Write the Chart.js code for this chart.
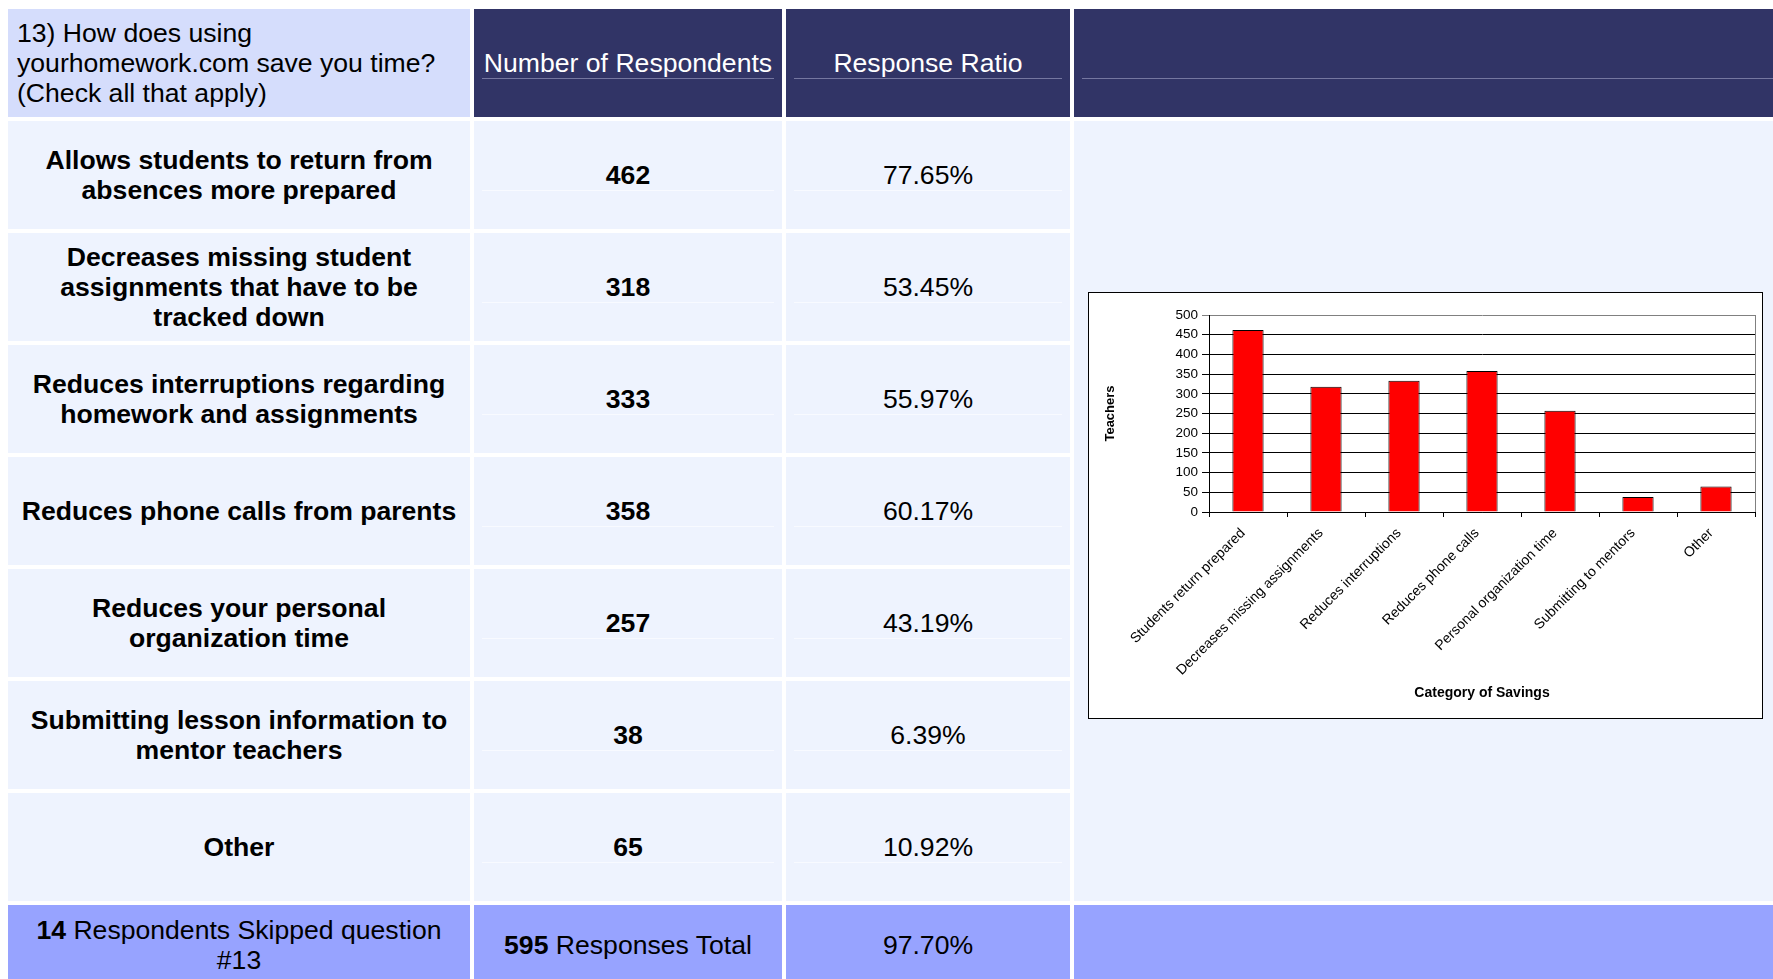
<!DOCTYPE html>
<html><head><meta charset="utf-8">
<script src="https://cdn.jsdelivr.net/npm/chart.js@4/dist/chart.umd.min.js"></script>
<style>
html,body{margin:0;padding:0;background:#fff;overflow:hidden;width:1773px;height:979px;}
body{position:relative;font-family:'Liberation Sans',Arial,sans-serif;}
.cell{position:absolute;display:flex;align-items:center;justify-content:center;text-align:center;font-size:26.6px;line-height:30px;color:#000;box-sizing:border-box;white-space:nowrap;}
.hl{background:#D5DDFC;justify-content:flex-start;text-align:left;padding-left:9px;}
.hd{background:#313466;color:#fff;}
.bd{background:#EEF3FE;}
.ft{background:#97A3FF;}
.line{position:absolute;height:1px;}
b{font-weight:bold;}
</style></head><body>
<div id="table"></div>
<div id="chartbox" style="position:absolute;left:1088px;top:292px;width:675px;height:427px;box-sizing:border-box;border:1px solid #000;background:#fff;">
  <div style="position:absolute;left:0;top:0;width:673px;height:425px;"><canvas id="c"></canvas></div>
</div>
<script>
// ---- data ----
const questionLines = ["13) How does using", "yourhomework.com save you time?", "(Check all that apply)"];
const headers = ["Number of Respondents", "Response Ratio", ""];
const rowLabels = [
  ["Allows students to return from", "absences more prepared"],
  ["Decreases missing student", "assignments that have to be", "tracked down"],
  ["Reduces interruptions regarding", "homework and assignments"],
  ["Reduces phone calls from parents"],
  ["Reduces your personal", "organization time"],
  ["Submitting lesson information to", "mentor teachers"],
  ["Other"]
];
const respondents = [462, 318, 333, 358, 257, 38, 65];
const ratios = ["77.65%", "53.45%", "55.97%", "60.17%", "43.19%", "6.39%", "10.92%"];
const skipped = 14;
const totalResponses = 595;
const totalRatio = "97.70%";

const categories = ["Students return prepared", "Decreases missing assignments", "Reduces interruptions", "Reduces phone calls", "Personal organization time", "Submitting to mentors", "Other"];
const teachers = [462, 318, 333, 358, 257, 38, 65];
const yTitle = "Teachers";
const xTitle = "Category of Savings";

// ---- layout of table ----
const colX = [8, 474, 786, 1074];
const colW = [462, 308, 284, 720];
const headTop = 9, rowH = 108, bodyTop = 121, pitch = 112;
const footTop = 905, footH = 80;
const T = document.getElementById('table');
function cell(cls, x, y, w, h, html) {
  const d = document.createElement('div');
  d.className = 'cell ' + cls;
  d.style.left = x + 'px'; d.style.top = y + 'px';
  d.style.width = w + 'px'; d.style.height = h + 'px';
  d.innerHTML = html;
  T.appendChild(d);
  return d;
}
function line(x, y, w, color) {
  const d = document.createElement('div');
  d.className = 'line';
  d.style.left = x + 'px'; d.style.top = y + 'px'; d.style.width = w + 'px';
  d.style.background = color;
  T.appendChild(d);
}
// header
cell('hl', colX[0], headTop, colW[0], rowH, '<div>' + questionLines.join('<br>') + '</div>');
for (let i = 0; i < 3; i++) {
  cell('hd', colX[i + 1], headTop, colW[i + 1], rowH, headers[i]);
  line(colX[i + 1] + 8, headTop + rowH / 2 + 15, colW[i + 1] - 16, '#7577A0');
}
// body
rowLabels.forEach((lab, r) => {
  const y = bodyTop + r * pitch;
  cell('bd', colX[0], y, colW[0], rowH, '<div><b>' + lab.join('<br>') + '</b></div>');
  cell('bd', colX[1], y, colW[1], rowH, '<b>' + respondents[r] + '</b>');
  cell('bd', colX[2], y, colW[2], rowH, ratios[r]);
  line(colX[1] + 8, y + rowH / 2 + 15, colW[1] - 16, '#F8FAFF');
  line(colX[2] + 8, y + rowH / 2 + 15, colW[2] - 16, '#F8FAFF');
});
cell('bd', colX[3], bodyTop, colW[3], 6 * pitch + rowH, '');
// footer
cell('ft', colX[0], footTop, colW[0], footH, '<div><b>' + skipped + '</b> Respondents Skipped question<br>#13</div>');
cell('ft', colX[1], footTop, colW[1], footH, '<div><b>' + totalResponses + '</b> Responses Total</div>');
cell('ft', colX[2], footTop, colW[2], footH, totalRatio);
cell('ft', colX[3], footTop, colW[3], footH, '');

// chartbox must be above table cells
document.body.appendChild(document.getElementById('chartbox'));

// ---- chart ----
const FAM = "'Liberation Sans', Arial, sans-serif";
const frame = {
  id: 'frame',
  beforeDatasetsDraw(chart) {
    const a = chart.chartArea, c = chart.ctx;
    c.save();
    c.strokeStyle = '#808080'; c.lineWidth = 1;
    c.beginPath();
    c.moveTo(Math.round(a.right) + 0.5, a.top);
    c.lineTo(Math.round(a.right) + 0.5, a.bottom);
    c.stroke();
    c.restore();
  }
};
new Chart(document.getElementById('c'), {
  type: 'bar',
  data: {
    labels: categories,
    datasets: [{
      data: teachers,
      backgroundColor: '#FF0000',
      borderColor: '#000000',
      borderWidth: 1,
      barPercentage: 1,
      categoryPercentage: 0.4
    }]
  },
  options: {
    responsive: true,
    maintainAspectRatio: false,
    animation: false,
    devicePixelRatio: 1,
    layout: { padding: { left: 0, top: 22, right: 7, bottom: 0 } },
    plugins: { legend: { display: false }, tooltip: { enabled: false } },
    scales: {
      x: {
        offset: true,
        grid: { display: true, drawOnChartArea: false, drawTicks: true, tickLength: 5, color: '#000', offset: true },
        border: { color: '#000', width: 1 },
        ticks: { color: '#000', font: { family: FAM, size: 14 }, minRotation: 45, maxRotation: 45, autoSkip: false, padding: 8, labelOffset: -5 },
        title: { display: true, text: xTitle, color: '#000', font: { family: FAM, size: 14, weight: 'bold' }, padding: { top: 4, bottom: 16 } },
        afterFit(s) { s.height = 206; }
      },
      y: {
        min: 0, max: 500,
        ticks: { stepSize: 50, color: '#000', font: { family: FAM, size: 13.5 }, padding: 4 },
        grid: { color: (ctx) => (ctx.tick && ctx.tick.value === 500) ? '#808080' : '#000', tickLength: 7 },
        border: { color: '#000', width: 1 },
        title: { display: true, text: yTitle, color: '#000', font: { family: FAM, size: 13, weight: 'bold' }, padding: { top: 14, bottom: 0 } },
        afterFit(s) { s.width = 120; }
      }
    }
  },
  plugins: [frame]
});
</script>
</body></html>
